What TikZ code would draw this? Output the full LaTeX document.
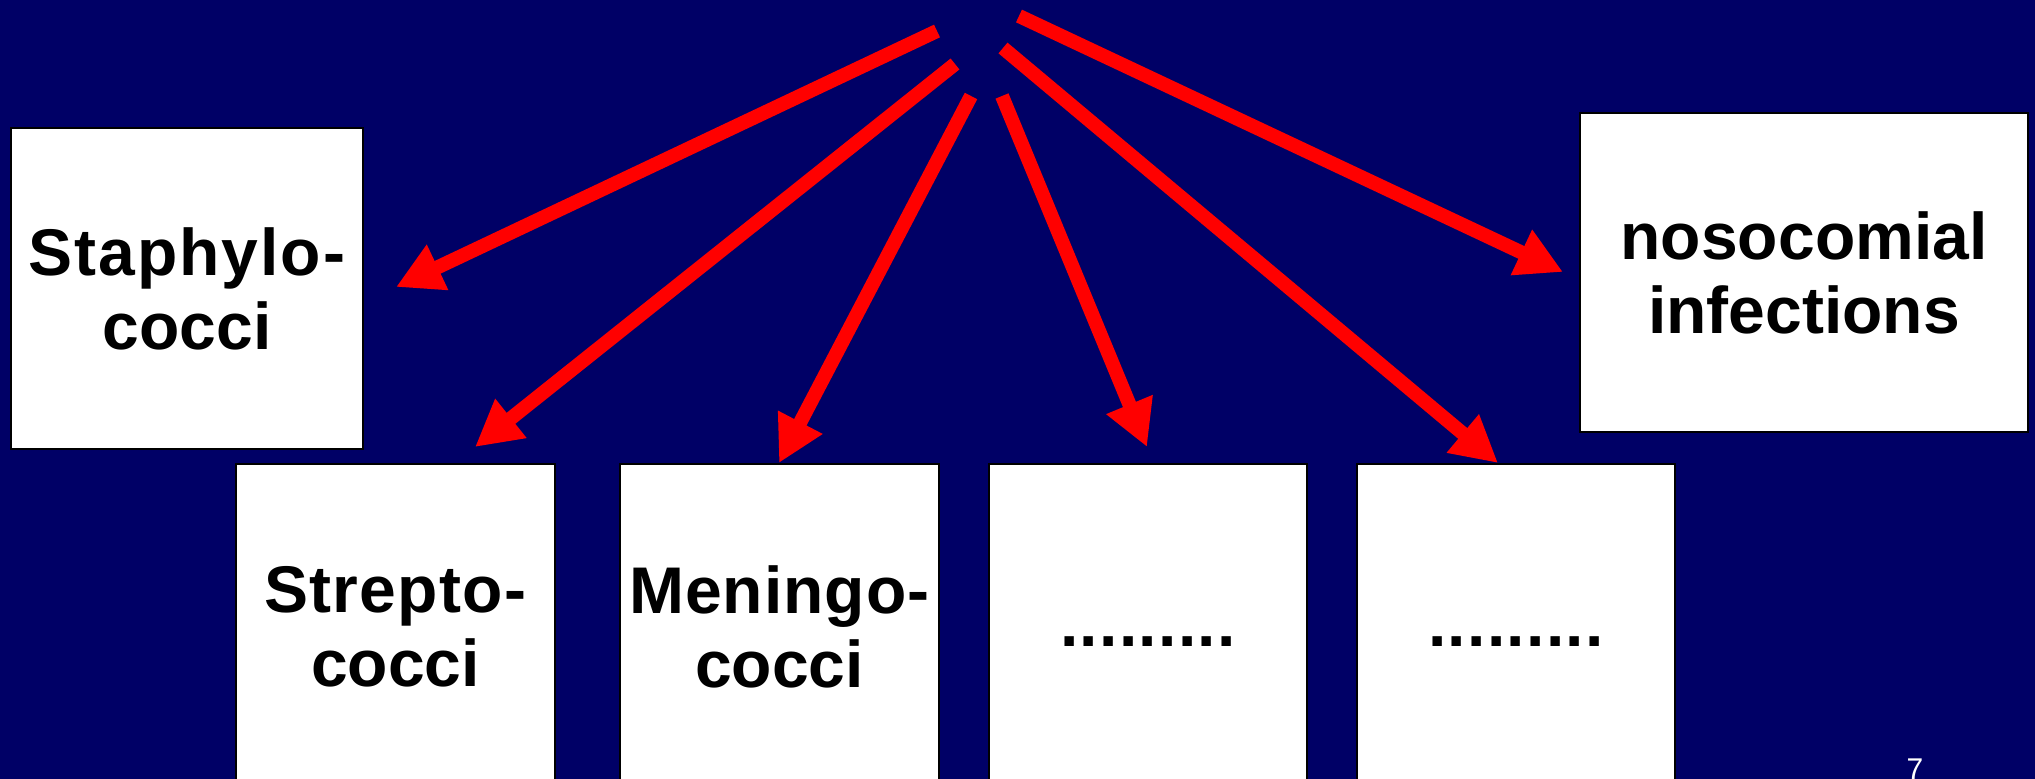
\documentclass[tikz,border=0pt]{standalone}
\usepackage{fontspec}
\setmainfont{Liberation Sans}
\usetikzlibrary{arrows.meta}
\definecolor{navy}{RGB}{0,0,102}
\definecolor{arrred}{RGB}{255,0,0}
\tikzset{
  box/.style={draw=black, line width=2pt, fill=white, inner sep=0pt, align=center,
    font=\fontsize{66}{74}\selectfont\bfseries, text=black},
  redarrow/.style={draw=arrred, line width=14pt, -{Triangle[length=46pt,width=47pt]}},
}
\newcommand{\dotrow}{\raisebox{-19pt}[0pt][0pt]{\addfontfeature{LetterSpace=2}.........}}
\begin{document}
\begin{tikzpicture}[x=1pt,y=-1pt]
\useasboundingbox (0,0) rectangle (2035,779);
\clip (0,0) rectangle (2035,779);
\fill[navy] (0,0) rectangle (2035,779);

% boxes
\node[box, minimum width=352pt, minimum height=321pt, anchor=north west] (staph) at (10,127) {{\addfontfeature{LetterSpace=3}Staphylo-}\\cocci};
\node[box, minimum width=448pt, minimum height=319pt, anchor=north west] (noso) at (1579,112) {nosocomial\\infections};
\node[box, minimum width=319pt, minimum height=326pt, anchor=north west] (strep) at (235,463) {{\addfontfeature{LetterSpace=2}Strepto-}\\cocci};
\node[box, minimum width=319pt, minimum height=326pt, anchor=north west] (menin) at (619,463) {{\addfontfeature{LetterSpace=1.5}Meningo-}\\cocci};
\node[box, minimum width=318pt, minimum height=326pt, anchor=north west] (dotsa) at (988,463) {\dotrow};
\node[box, minimum width=318pt, minimum height=326pt, anchor=north west] (dotsb) at (1356,463) {\dotrow};

% arrow ends
\coordinate (s1) at (937,31);   \coordinate (t1) at (396,287);
\coordinate (s2) at (955,64);   \coordinate (t2) at (475,447);
\coordinate (s3) at (971,96);   \coordinate (t3) at (779,463);
\coordinate (s4) at (1002,96);  \coordinate (t4) at (1147,447);
\coordinate (s5) at (1003,48);  \coordinate (t5) at (1498,463);
\coordinate (s6) at (1019,16);  \coordinate (t6) at (1563,272);

\draw[redarrow] (s1) -- (t1);
\draw[redarrow] (s2) -- (t2);
\draw[redarrow] (s3) -- (t3);
\draw[redarrow] (s4) -- (t4);
\draw[redarrow] (s5) -- (t5);
\draw[redarrow] (s6) -- (t6);

% page number
\node[text=white, font=\fontsize{30}{36}\selectfont, inner sep=0pt, anchor=north] (pg) at (1915,759) {7};
\end{tikzpicture}
\end{document}
